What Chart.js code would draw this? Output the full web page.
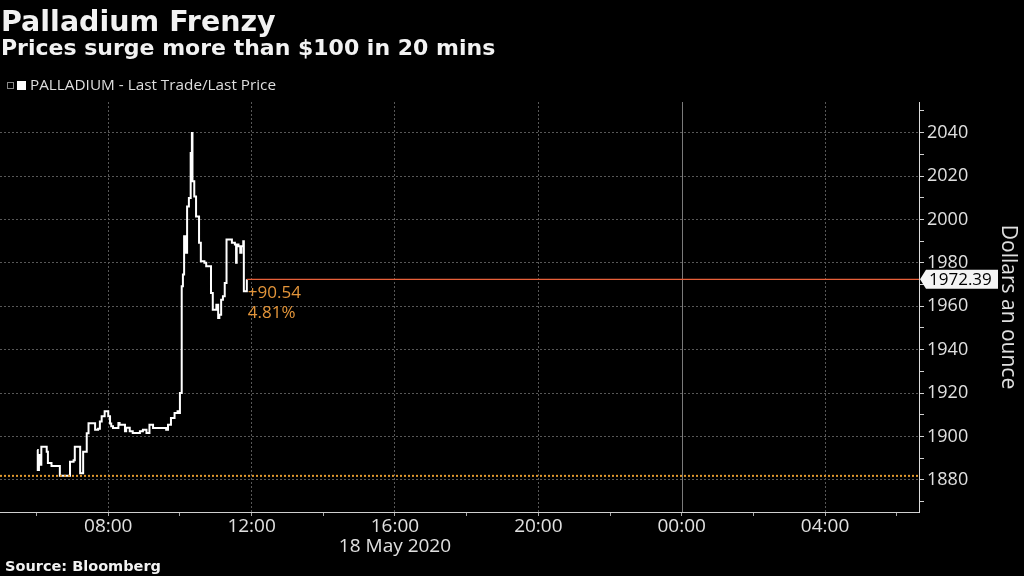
<!DOCTYPE html>
<html>
<head>
<meta charset="utf-8">
<script src="https://cdn.jsdelivr.net/npm/chart.js@4.4.1/dist/chart.umd.min.js"></script>
<style>
  html, body { margin: 0; padding: 0; background: #000; }
  #wrap { position: relative; width: 1024px; height: 576px; overflow: hidden; background: #000; }
  #chart { position: absolute; left: 0; top: 0; }
  .txt { position: absolute; white-space: nowrap; line-height: 1; }
  .bold { font-family: "DejaVu Sans"; font-weight: bold; color: #f2f2f2; }
  .leg { font-family: "Open Sans"; color: #dedede; }
</style>
</head>
<body>
<div id="wrap">
  <canvas id="chart" width="1024" height="576"></canvas>
  <div class="txt bold" style="left:1px; top:8px; font-size:28.5px;">Palladium Frenzy</div>
  <div class="txt bold" style="left:1px; top:37px; font-size:22px;">Prices surge more than $100 in 20 mins</div>
  <div style="position:absolute; left:7px; top:82px; width:5px; height:5px; border:1px solid #888;"></div>
  <div style="position:absolute; left:17px; top:81px; width:9px; height:9px; background:#fff;"></div>
  <div class="txt leg" style="left:30px; top:77px; font-size:15.3px;">PALLADIUM - Last Trade/Last Price</div>
  <div class="txt bold" style="left:5px; top:559px; font-size:14.5px;">Source: Bloomberg</div>
</div>
<script>
// palladium last trade, 18 May 2020 (local time)
const times = ["06:01","06:02","06:04","06:05","06:08","06:17","06:19","06:25","06:39","06:56",
  "07:02","07:04","07:13","07:18","07:24","07:27","07:38","07:43","07:46","07:49","07:54",
  "08:00","08:03","08:05","08:08","08:17","08:19","08:28","08:30","08:36","08:41","08:53","08:58",
  "09:04","09:09","09:15","09:37","09:40","09:45","09:51","09:56","09:59",
  "10:00","10:03","10:05","10:07","10:09","10:12","10:15","10:18","10:20","10:21","10:24","10:27",
  "10:32","10:35","10:41","10:44","10:52","10:55",
  "11:01","11:04","11:06","11:09","11:12","11:15","11:18","11:27","11:32","11:34","11:35","11:38",
  "11:41","11:43","11:46","11:47","11:52"];
const prices = [1893.8,1884.6,1891.5,1887.0,1895.3,1893.0,1887.8,1886.4,1881.85,1888.4,
  1889.0,1895.3,1883.0,1893.0,1901.5,1906.1,1903.1,1903.5,1906.9,1909.3,1911.6,
  1909.3,1906.0,1904.7,1903.9,1906.2,1905.4,1902.4,1904.0,1902.4,1901.6,1902.4,1903.1,
  1901.6,1905.4,1903.9,1903.1,1905.4,1908.5,1910.8,1911.6,1910.8,
  1920.0,1969.2,1974.6,1992.2,1984.6,2006.0,2009.9,2030.6,2039.8,2017.6,2010.6,2001.4,
  1989.2,1980.7,1980.0,1978.4,1966.1,1958.4,
  1960.7,1954.6,1956.1,1963.0,1964.6,1970.7,1990.7,1989.2,1988.4,1980.0,1988.4,1987.6,
  1984.6,1987.6,1989.9,1966.9,1972.39];

const prevClose = 1881.85;
const lastPrice = 1972.39;
const changeLabels = ["+90.54", "4.81%"];
const dateLabel = "18 May 2020";
const yTitle = "Dollars an ounce";

const xTicks = [6, 8, 10, 12, 14, 16, 18, 20, 22, 24, 26, 28, 30];
const yTicks = [1870, 1880, 1890, 1900, 1910, 1920, 1930, 1940, 1950, 1960, 1970, 1980, 1990, 2000, 2010, 2020, 2030, 2040, 2050];
const xMin = 4.98, xMax = 30.62;
const yMin = 1865.2, yMax = 2054.1;

const toHours = s => { const p = s.split(':').map(Number); return p[0] + p[1] / 60; };
const series = times.map((t, i) => ({ x: toHours(t), y: prices[i] }));
const lastX = series[series.length - 1].x;
const pad2 = n => (n < 10 ? '0' : '') + n;

const extras = {
  id: 'extras',
  beforeDatasetsDraw(chart) {
    const { ctx, chartArea, scales } = chart;
    const mx = scales.x.getPixelForValue(24);
    ctx.save();
    ctx.strokeStyle = '#7a7a7a';
    ctx.lineWidth = 1;
    ctx.beginPath();
    ctx.moveTo(Math.round(mx) + 0.5, chartArea.top);
    ctx.lineTo(Math.round(mx) + 0.5, chartArea.bottom);
    ctx.stroke();
    ctx.restore();
  },
  afterDraw(chart) {
    const { ctx, chartArea, scales } = chart;
    const py = scales.y.getPixelForValue(lastPrice);
    const ax = chartArea.right;
    ctx.save();
    // last price tag
    ctx.fillStyle = '#f4f4f4';
    ctx.beginPath();
    ctx.moveTo(ax + 1, py);
    ctx.lineTo(ax + 7, py - 9.5);
    ctx.lineTo(ax + 79, py - 9.5);
    ctx.lineTo(ax + 79, py + 9.5);
    ctx.lineTo(ax + 7, py + 9.5);
    ctx.closePath();
    ctx.fill();
    ctx.fillStyle = '#000';
    ctx.font = '17px "Open Sans"';
    ctx.textBaseline = 'middle';
    ctx.textAlign = 'left';
    ctx.fillText(lastPrice.toFixed(2), ax + 10, py + 1);

    // change annotation
    const lx = scales.x.getPixelForValue(lastX) + 1;
    ctx.fillStyle = '#e3953a';
    ctx.textBaseline = 'alphabetic';
    ctx.fillText(changeLabels[0], lx, py + 19);
    ctx.fillText(changeLabels[1], lx, py + 39);

    // date under the axis
    ctx.fillStyle = '#e0e0e0';
    ctx.font = '19px "Open Sans"';
    ctx.textAlign = 'center';
    ctx.fillText(dateLabel, scales.x.getPixelForValue(16), 552);

    // axis title
    ctx.translate(1008, (chartArea.top + chartArea.bottom) / 2);
    ctx.rotate(Math.PI / 2);
    ctx.font = '21px "Open Sans"';
    ctx.textBaseline = 'middle';
    ctx.fillText(yTitle, 0, 0);
    ctx.restore();
  }
};

new Chart(document.getElementById('chart'), {
  type: 'line',
  data: {
    datasets: [
      { data: [{ x: xMin, y: prevClose }, { x: xMax, y: prevClose }], borderColor: '#e39a2e', borderWidth: 2, borderDash: [2, 2], pointRadius: 0 },
      { data: [{ x: lastX, y: lastPrice }, { x: xMax, y: lastPrice }], borderColor: '#e8603a', borderWidth: 1.2, pointRadius: 0 },
      { data: series, borderColor: '#ffffff', borderWidth: 2, stepped: 'before', pointRadius: 0 }
    ]
  },
  options: {
    responsive: false,
    animation: false,
    layout: { padding: { top: 102, left: 0, right: 0, bottom: 0 } },
    plugins: { legend: { display: false }, tooltip: { enabled: false } },
    scales: {
      x: {
        type: 'linear', min: xMin, max: xMax,
        afterBuildTicks: s => { s.ticks = xTicks.map(v => ({ value: v })); },
        afterFit: s => { s.height = 64; },
        grid: {
          color: c => (c.tick && c.tick.value % 4 === 0 && c.tick.value !== 24) ? '#575757' : 'rgba(0,0,0,0)',
          tickColor: '#a8a8a8', tickLength: 4, tickBorderDash: []
        },
        border: { color: '#d0d0d0', width: 1, dash: [2, 2] },
        ticks: {
          color: '#e0e0e0', font: { family: 'Open Sans', size: 19 }, padding: -1,
          maxRotation: 0, autoSkip: false,
          callback: v => (v % 4 === 0 ? pad2(v % 24) + ':00' : '')
        }
      },
      y: {
        position: 'right', min: yMin, max: yMax,
        afterBuildTicks: s => { s.ticks = yTicks.map(v => ({ value: v })); },
        afterFit: s => { s.width = 105; },
        grid: {
          color: c => (c.tick && c.tick.value % 20 === 0) ? '#575757' : 'rgba(0,0,0,0)',
          tickColor: '#d0d0d0', tickLength: 5, tickBorderDash: []
        },
        border: { color: '#dcdcdc', width: 1, dash: [2, 2] },
        ticks: {
          color: '#e0e0e0', font: { family: 'Open Sans', size: 18 }, padding: 3, autoSkip: false,
          callback: v => (v % 20 === 0 ? v : '')
        }
      }
    }
  },
  plugins: [extras]
});
</script>
</body>
</html>
